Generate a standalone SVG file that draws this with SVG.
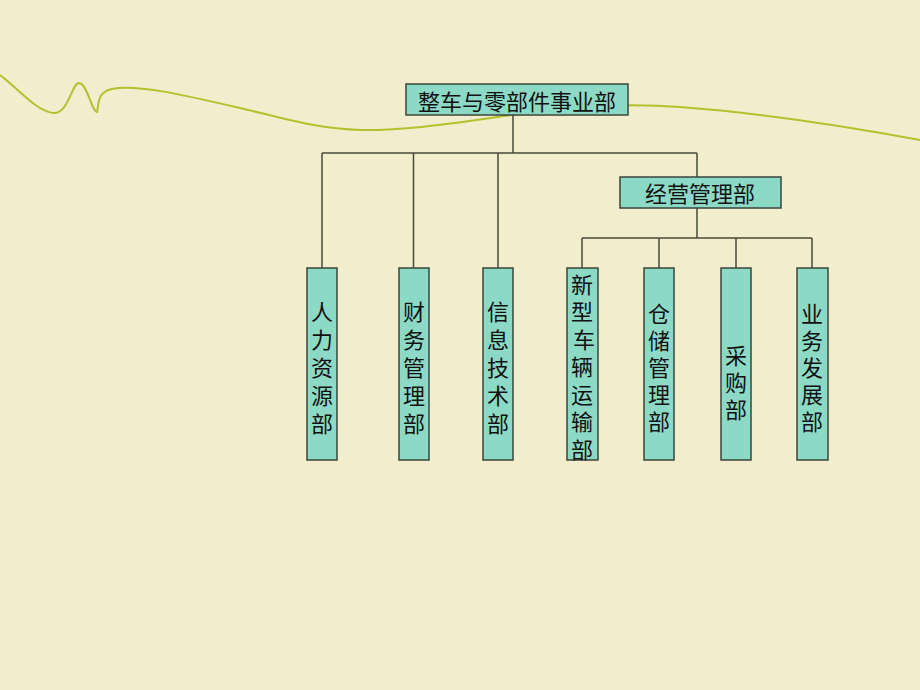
<svg xmlns="http://www.w3.org/2000/svg" width="920" height="690" viewBox="0 0 920 690">
<style>
.bg{fill:#F2EDCC}
.box{fill:#8CD9C6;stroke:#3A463E;stroke-width:1.5}
.ln{fill:none;stroke:#4A4A3C;stroke-width:1.5}
.t{font-family:"Noto Sans CJK SC","Noto Sans CJK JP",sans-serif;font-size:22px;fill:#111;text-anchor:middle;dominant-baseline:central}
</style>
<rect class="bg" x="0" y="0" width="920" height="690"/>
<path d="M0,75 C20,90 38,113 55,113 C68,113 72,83 79,83 C87,83 92,112 97,112 C99,104 97,92 112,89 C135,84 180,94 240,108 C290,120 320,129 360,130 C420,131 480,118 560,109 C600,105 640,104 680,107 C760,113 850,127 920,140" fill="none" stroke="#B3C12E" stroke-width="2"/>
<g id="connectors">
<path class="ln" d="M513,115 V153 M322,153 H697 M322,153 V268 M413.5,153 V268 M498,153 V268 M697,153 V177"/>
<path class="ln" d="M697,208 V238 M582,238 H812 M582,238 V268 M659,238 V268 M736,238 V268 M812,238 V268"/>
</g>
<g id="n-top"><rect class="box" x="406" y="84" width="222" height="31"/><text class="t" x="517" y="100">整车与零部件事业部</text></g>
<g id="n-jy"><rect class="box" x="620" y="177" width="161" height="31"/><text class="t" x="700" y="192">经营管理部</text></g>
<g id="n-rl"><rect class="box" x="307" y="268" width="30" height="192"/><text class="t"><tspan x="322" y="310">人</tspan><tspan x="322" y="338">力</tspan><tspan x="322" y="366">资</tspan><tspan x="322" y="394">源</tspan><tspan x="322" y="422">部</tspan></text></g>
<g id="n-cw"><rect class="box" x="399" y="268" width="30" height="192"/><text class="t"><tspan x="414" y="310">财</tspan><tspan x="414" y="338">务</tspan><tspan x="414" y="366">管</tspan><tspan x="414" y="394">理</tspan><tspan x="414" y="422">部</tspan></text></g>
<g id="n-xx"><rect class="box" x="483" y="268" width="30" height="192"/><text class="t"><tspan x="498" y="310">信</tspan><tspan x="498" y="338">息</tspan><tspan x="498" y="366">技</tspan><tspan x="498" y="394">术</tspan><tspan x="498" y="422">部</tspan></text></g>
<g id="n-xx2"><rect class="box" x="567" y="268" width="31" height="192"/><text class="t"><tspan x="582" y="283">新</tspan><tspan x="582" y="310">型</tspan><tspan x="584" y="338">车</tspan><tspan x="582" y="365">辆</tspan><tspan x="582" y="393">运</tspan><tspan x="582" y="420">输</tspan><tspan x="582" y="448">部</tspan></text></g>
<g id="n-cc"><rect class="box" x="644" y="268" width="30" height="192"/><text class="t"><tspan x="659" y="312">仓</tspan><tspan x="659" y="339">储</tspan><tspan x="659" y="366">管</tspan><tspan x="659" y="393">理</tspan><tspan x="659" y="420">部</tspan></text></g>
<g id="n-cg"><rect class="box" x="721" y="268" width="30" height="192"/><text class="t"><tspan x="736" y="354">采</tspan><tspan x="736" y="381">购</tspan><tspan x="736" y="408">部</tspan></text></g>
<g id="n-yw"><rect class="box" x="797" y="268" width="31" height="192"/><text class="t"><tspan x="812" y="312">业</tspan><tspan x="812" y="339">务</tspan><tspan x="812" y="366">发</tspan><tspan x="812" y="393">展</tspan><tspan x="812" y="420">部</tspan></text></g>
</svg>
